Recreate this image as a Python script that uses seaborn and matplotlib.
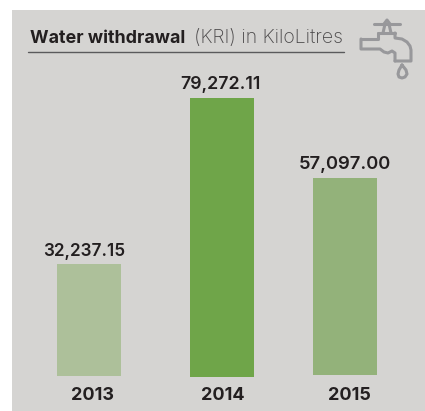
#!/usr/bin/env python3
"""Water withdrawal bar chart with tap icon"""

import matplotlib
matplotlib.use('Agg')
import matplotlib.pyplot as plt
import pandas as pd
import seaborn as sns

years = ['2013', '2014', '2015']
# bar heights as drawn in the picture, labels as printed
bar_heights = [31800, 79272, 55950]
value_labels = ['32,237.15', '79,272.11', '57,097.00']
bar_colors = ['#adc09a', '#6fa549', '#93b27a']

BG = '#d5d4d2'
TEXT = '#231f20'
ICON = '#98989b'

W, H = 425, 411
sns.set_theme(style='white')
plt.rcParams['font.family'] = ['Inter', 'DejaVu Sans']

fig = plt.figure(figsize=(W / 100, H / 100), dpi=100, facecolor='white')

# pixel-space canvas for the panel, title and icon
bg = fig.add_axes([0, 0, 1, 1])
bg.set_xlim(0, W)
bg.set_ylim(H, 0)
bg.axis('off')
bg.add_patch(plt.Rectangle((12, 10), W - 12, H - 10, color=BG, lw=0))

bg.text(30, 43, 'Water withdrawal', fontsize=12.9, fontweight='bold', color=TEXT, va='baseline')
bg.text(194, 43, '(KRI) in KiloLitres', fontsize=14, fontweight='light', color='#4a4849', va='baseline')
bg.plot([28, 344], [52, 52], color='#5a5a5c', lw=1)

# tap icon
tap = dict(color=ICON, lw=2.2, solid_capstyle='round', solid_joinstyle='round')
bg.plot([374, 400], [24, 24], **tap)
bg.plot([384, 387, 390], [24, 20, 24], **tap)
bg.plot([385, 383], [24, 33], **tap)
bg.plot([389, 391], [24, 33], **tap)
bg.plot([378, 395], [33, 33], **tap)
bg.plot([361, 378, 378], [39, 39, 33], **tap)
bg.plot([395, 395, 402, 407, 410, 411, 411, 395],
        [33, 38, 39, 42, 46, 50, 61, 61], **tap)
bg.plot([361, 361, 380, 384, 388, 392, 395, 395],
        [39, 49, 49, 52, 53, 51, 53, 61], **tap)
bg.plot([402, 399, 398, 399, 402, 405, 407, 406, 402],
        [65, 70, 74, 77, 78, 77, 74, 70, 65], **tap)

ax = fig.add_axes([0, 0, 1, 1], facecolor='none')
df = pd.DataFrame({'year': years, 'value': bar_heights})
sns.barplot(data=df, x='year', y='value', hue='year', palette=bar_colors,
            legend=False, width=0.5, saturation=1, linewidth=0, ax=ax)

# map data to the pixel layout of the panel
ax.set_position([0, 1 - 377 / H, 1, 279 / H])
ax.set_ylim(0, 79272)
ax.set_xlim(-0.5, 2.5)
ax.axis('off')

# the bars are unevenly spaced in the picture
for patch, left, shift in zip(ax.patches, [57, 190, 313], [1, 0, 2]):
    x0, _ = ax.transData.inverted().transform((left * 1.0, 0))
    x1, _ = ax.transData.inverted().transform((left + 64.0, 0))
    patch.set_x(x0)
    patch.set_width(x1 - x0)
    patch.set_y(shift * 79272 / 279)

for label, x, y, size in zip(value_labels, [84.5, 220, 344.5], [256, 89, 169], [12.4, 12.8, 13.3]):
    bg.text(x, y, label, fontsize=size, fontweight='semibold', color=TEXT, ha='center', va='baseline')
for year, x in zip(years, [93, 223, 349]):
    bg.text(x, 400, year, fontsize=13, fontweight='bold', color=TEXT, ha='center', va='baseline')

plt.savefig('out.png', dpi=100)
